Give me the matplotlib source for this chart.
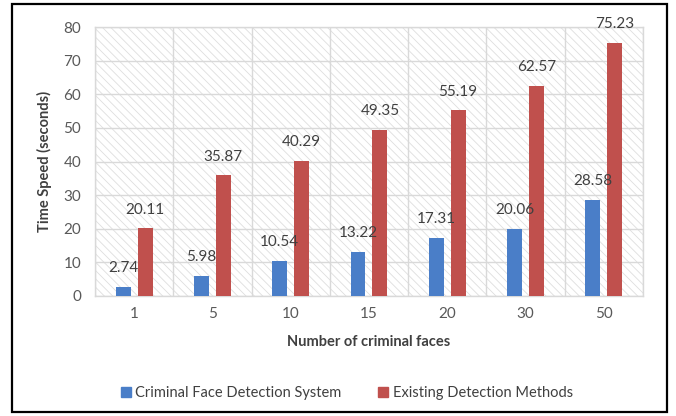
import matplotlib.pyplot as plt
import matplotlib.patches as mpatches
import numpy as np

categories = ["1", "5", "10", "15", "20", "30", "50"]
proposed = [2.74, 5.98, 10.54, 13.22, 17.31, 20.06, 28.58]
existing = [20.11, 35.87, 40.29, 49.35, 55.19, 62.57, 75.23]
series_names = ["Criminal Face Detection System", "Existing Detection Methods"]
colors = ["#4a7ec8", "#c0504d"]

plt.rcParams['font.family'] = ['Lato', 'DejaVu Sans']
plt.rcParams['hatch.color'] = '#dedede'
plt.rcParams['hatch.linewidth'] = 0.6

fig = plt.figure(figsize=(6.76, 4.16), dpi=100)
ax = fig.add_axes([0.1405, 0.2885, 0.8105, 0.6465])

x = np.arange(len(categories))
w = 0.19
off = 0.14

# hatched plot-area background
bg = mpatches.Rectangle((0, 0), 1, 1, transform=ax.transAxes, facecolor='white',
                        edgecolor='#dedede', hatch='\\\\\\\\', linewidth=0, zorder=0)
ax.add_patch(bg)

b1 = ax.bar(x - off, proposed, w, color=colors[0], zorder=3)
b2 = ax.bar(x + off, existing, w, color=colors[1], zorder=3)

for bars, vals in ((b1, proposed), (b2, existing)):
    for rect, v in zip(bars, vals):
        ax.annotate(f"{v:.2f}", (rect.get_x() + rect.get_width() / 2, v),
                    xytext=(0, 13.5), textcoords='offset points',
                    ha='center', va='center', fontsize=11, color='#404040', zorder=4)

ax.set_xlim(-0.5, len(categories) - 0.5)
ax.set_ylim(0, 80)
ax.set_yticks(range(0, 81, 10))
ax.set_xticks(x)
ax.set_xticklabels(categories)
ax.set_xticks(np.arange(-0.5, len(categories)), minor=True)
ax.grid(axis='y', which='major', color='#d9d9d9', linewidth=1, zorder=1)
ax.grid(axis='x', which='minor', color='#d9d9d9', linewidth=1, zorder=1)
ax.grid(axis='x', which='major', visible=False)
ax.tick_params(which='both', length=0)
ax.tick_params(axis='y', labelsize=11, labelcolor='#595959', pad=10)
ax.tick_params(axis='x', labelsize=11, labelcolor='#595959', pad=8)
for s in ax.spines.values():
    s.set_color('#d9d9d9')
    s.set_linewidth(1)

ax.set_ylabel("Time Speed (seconds)", fontsize=10.5, fontweight='bold', color='#404040', labelpad=8)
ax.set_xlabel("Number of criminal faces", fontsize=10.5, fontweight='bold', color='#404040', labelpad=10)

handles = [mpatches.Patch(color=c) for c in colors]
fig.legend(handles, series_names, loc='center', bbox_to_anchor=(0.513, 0.055), ncol=2,
           frameon=False, fontsize=10.5, handlelength=0.7, handleheight=0.7,
           handletextpad=0.3, columnspacing=2.5, labelcolor='#404040')

# outer frame around the figure
frame = mpatches.Rectangle((0.0178, 0.0096), 0.969, 0.9806, transform=fig.transFigure,
                           fill=False, edgecolor='black', linewidth=1.6)
fig.add_artist(frame)

fig.savefig("out.png", dpi=100, facecolor='white')
